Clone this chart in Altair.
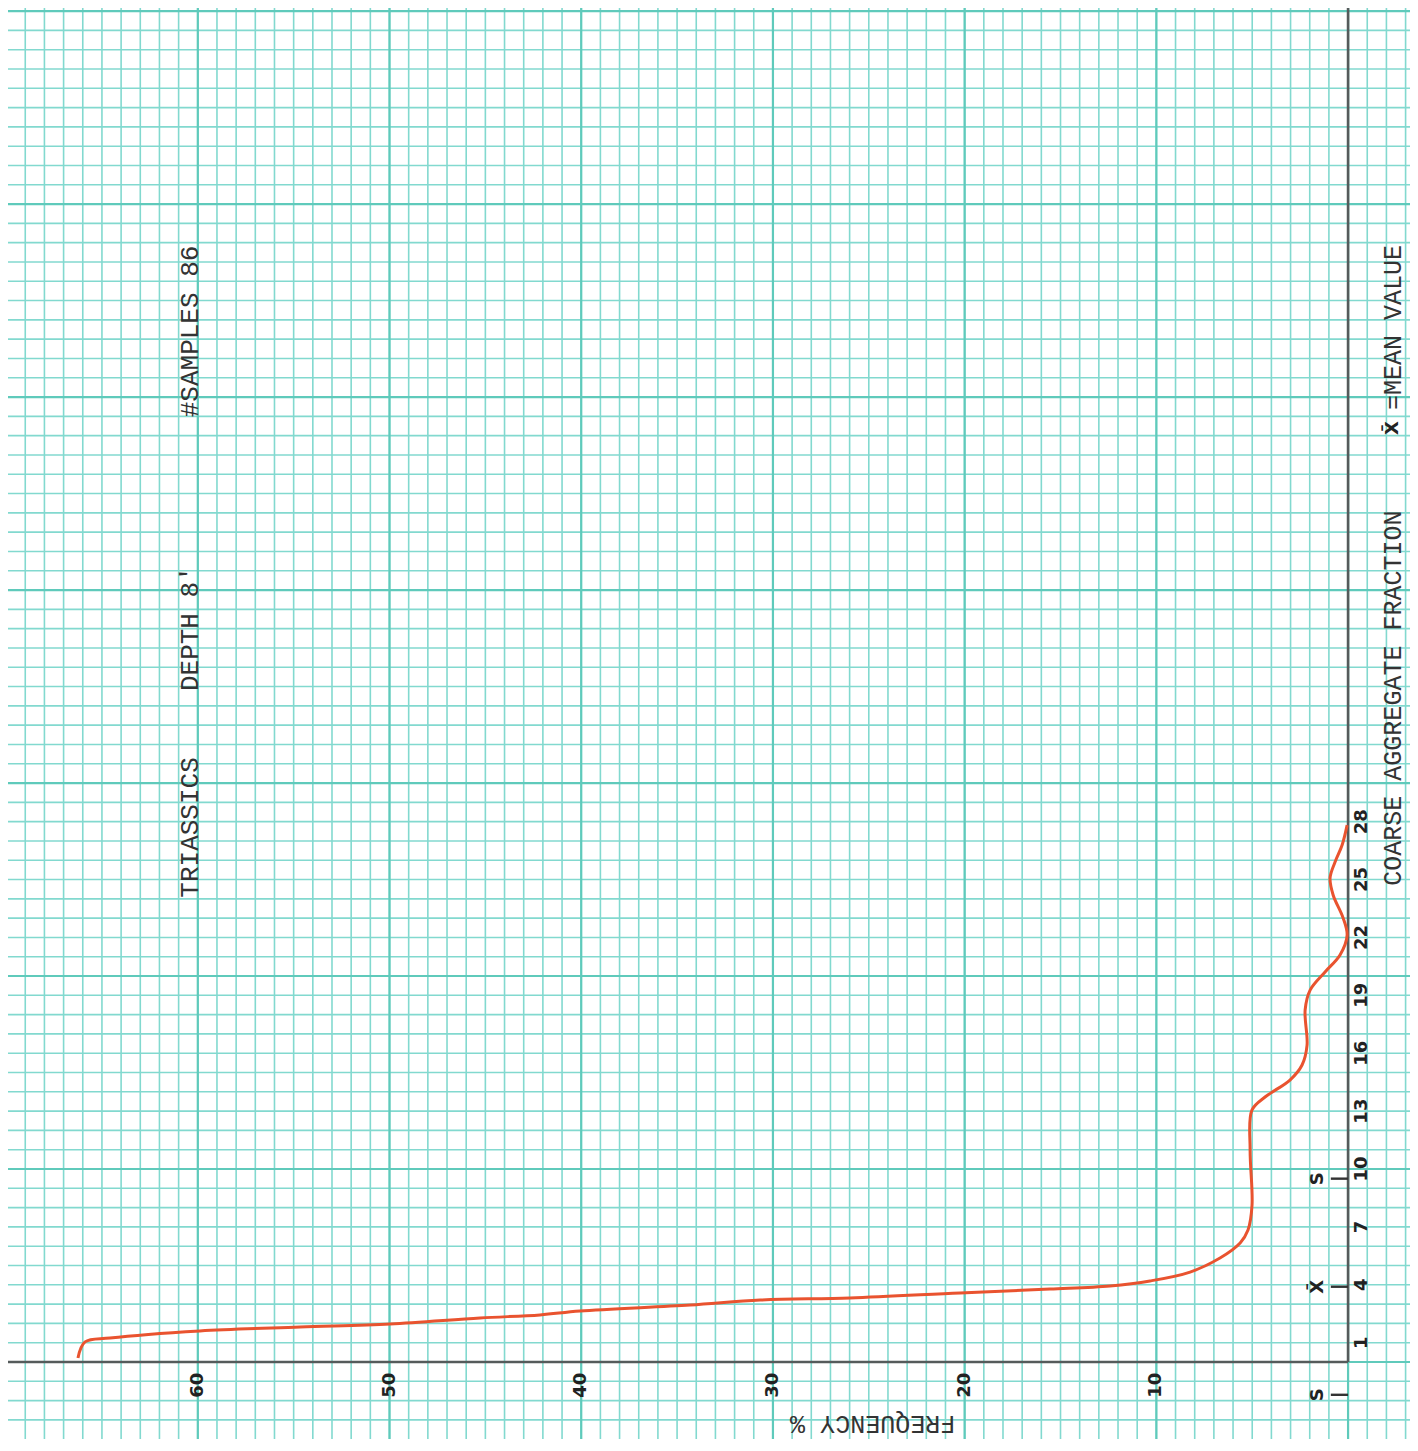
import altair as alt
import pandas as pd

# ---- data ----
freq = [66.25, 65.88, 64.58, 59.89, 54.67, 49.97, 45.28, 42.15, 40.06, 34.32,
        30.67, 25.98, 20.24, 15.55, 12.42, 10.33, 8.24, 6.68, 5.63, 5.22,
        5.01, 5.11, 5.01, 4.33, 3.03, 2.40, 2.14, 2.24, 1.98, 1.20,
        0.42, 0.05, 0.26, 0.78, 0.94, 0.68, 0.31, 0.05]
fraction = [0.21, 1.04, 1.24, 1.61, 1.81, 1.97, 2.28, 2.44, 2.64, 2.95,
            3.21, 3.32, 3.58, 3.78, 3.94, 4.20, 4.66, 5.39, 6.17, 6.84,
            8.13, 10.98, 13.06, 13.73, 14.61, 15.39, 16.42, 18.24, 19.27, 20.21,
            21.09, 22.12, 23.01, 24.20, 25.08, 25.91, 26.79, 27.82]

freq_ticks = [60, 50, 40, 30, 20, 10]
fraction_ticks = [1, 4, 7, 10, 13, 16, 19, 22, 25, 28]

mean_value = 3.9
s_upper = 9.5
s_lower = -1.7

title_texts = ["TRIASSICS", "DEPTH 8'", "#SAMPLES 86"]
title_pos = [27.7, 38.0, 53.4]
side_texts = ["COARSE AGGREGATE FRACTION", "=MEAN VALUE"]
side_pos = [34.4, 53.6]

# ---- scales ----
W, H = 1402, 1431
x_dom = [69.9, -3.23]
y_dom = [-3.99, 70.16]
xs = alt.Scale(domain=x_dom, nice=False, zero=False)
ys = alt.Scale(domain=y_dom, nice=False, zero=False)

GRID_MINOR = "#82d9cf"
GRID_MAJOR = "#5fcabb"
AXIS_COL = "#555b5b"
RED = "#e9532f"
MONO = "Liberation Mono"
BOLD = "DejaVu Sans"

minor_x = pd.DataFrame({"v": list(range(-3, 70))})
minor_y = pd.DataFrame({"v": list(range(-3, 71))})
major_x = pd.DataFrame({"v": list(range(0, 70, 10))})
major_y = pd.DataFrame({"v": list(range(0, 71, 10))})

gx = alt.Chart(minor_x).mark_rule(color=GRID_MINOR, strokeWidth=1.6).encode(
    x=alt.X("v:Q", scale=xs, axis=None))
gy = alt.Chart(minor_y).mark_rule(color=GRID_MINOR, strokeWidth=1.6).encode(
    y=alt.Y("v:Q", scale=ys, axis=None))
Gx = alt.Chart(major_x).mark_rule(color=GRID_MAJOR, strokeWidth=2.2).encode(
    x=alt.X("v:Q", scale=xs, axis=None))
Gy = alt.Chart(major_y).mark_rule(color=GRID_MAJOR, strokeWidth=2.2).encode(
    y=alt.Y("v:Q", scale=ys, axis=None))

origin = pd.DataFrame({"x": [0], "y": [0]})
vaxis = alt.Chart(origin).mark_rule(color=AXIS_COL, strokeWidth=2.6).encode(
    x=alt.X("x:Q", scale=xs, axis=None), y=alt.Y("y:Q", scale=ys, axis=None),
    y2=alt.value(0))
haxis = alt.Chart(origin).mark_rule(color=AXIS_COL, strokeWidth=2.6).encode(
    x=alt.X("x:Q", scale=xs, axis=None), y=alt.Y("y:Q", scale=ys, axis=None),
    x2=alt.value(0))

curve_df = pd.DataFrame({"freq": freq, "fraction": fraction,
                         "idx": list(range(len(freq)))})
curve = alt.Chart(curve_df).mark_line(color=RED, strokeWidth=3,
                                      interpolate="catmull-rom").encode(
    x=alt.X("freq:Q", scale=xs, axis=None),
    y=alt.Y("fraction:Q", scale=ys, axis=None),
    order="idx:Q")

# tick labels
fl = pd.DataFrame({"x": freq_ticks, "y": [-1.2] * len(freq_ticks),
                   "t": [str(v) for v in freq_ticks]})
flab = alt.Chart(fl).mark_text(angle=270, font=BOLD, fontWeight="bold",
                               fontSize=18, color="#222",
                               align="center", baseline="middle").encode(
    x=alt.X("x:Q", scale=xs, axis=None), y=alt.Y("y:Q", scale=ys, axis=None),
    text="t:N")
yl = pd.DataFrame({"x": [-0.75] * len(fraction_ticks), "y": fraction_ticks,
                   "t": [str(v) for v in fraction_ticks]})
ylab = alt.Chart(yl).mark_text(angle=270, font=BOLD, fontWeight="bold",
                               fontSize=18, color="#222",
                               align="center", baseline="middle").encode(
    x=alt.X("x:Q", scale=xs, axis=None), y=alt.Y("y:Q", scale=ys, axis=None),
    text="t:N")

# mean / std markers
mk = pd.DataFrame({"y": [s_upper, mean_value, s_lower],
                   "t": ["S", "X\u0304", "S"],
                   "x0": [0, 0, 0], "x1": [0.9, 0.9, 0.9], "xt": [1.55, 1.55, 1.55]})
mticks = alt.Chart(mk).mark_rule(color="#333", strokeWidth=2.4).encode(
    x=alt.X("x0:Q", scale=xs, axis=None), x2="x1:Q",
    y=alt.Y("y:Q", scale=ys, axis=None))
mtext = alt.Chart(mk).mark_text(angle=270, font=BOLD, fontWeight="bold",
                                fontSize=18, color="#222",
                                align="center", baseline="middle").encode(
    x=alt.X("xt:Q", scale=xs, axis=None), y=alt.Y("y:Q", scale=ys, axis=None),
    text="t:N")

# titles
tt = pd.DataFrame({"x": [60.4] * 3, "y": title_pos, "t": title_texts})
ttext = alt.Chart(tt).mark_text(angle=270, font=MONO, fontSize=26, color="#333",
                                align="center", baseline="middle").encode(
    x=alt.X("x:Q", scale=xs, axis=None), y=alt.Y("y:Q", scale=ys, axis=None),
    text="t:N")
st = pd.DataFrame({"x": [-2.35] * 2, "y": side_pos, "t": side_texts})
stext = alt.Chart(st).mark_text(angle=270, font=MONO, fontSize=25, color="#333",
                                align="center", baseline="middle").encode(
    x=alt.X("x:Q", scale=xs, axis=None), y=alt.Y("y:Q", scale=ys, axis=None),
    text="t:N")
xbar = pd.DataFrame({"x": [-2.35], "y": [48.4], "t": ["X\u0304"]})
xbtext = alt.Chart(xbar).mark_text(angle=270, font=BOLD, fontWeight="bold",
                                   fontSize=18, color="#222",
                                   align="center", baseline="middle").encode(
    x=alt.X("x:Q", scale=xs, axis=None), y=alt.Y("y:Q", scale=ys, axis=None),
    text="t:N")
fq = pd.DataFrame({"x": [24.8], "y": [-3.2], "t": ["FREQUENCY %"]})
fqtext = alt.Chart(fq).mark_text(angle=180, font=MONO, fontSize=25, color="#333",
                                 align="center", baseline="middle").encode(
    x=alt.X("x:Q", scale=xs, axis=None), y=alt.Y("y:Q", scale=ys, axis=None),
    text="t:N")

chart = alt.layer(gx, gy, Gx, Gy, vaxis, haxis, curve, flab, ylab,
                  mticks, mtext, ttext, stext, xbtext, fqtext).properties(
    width=W, height=H, padding=0,
    autosize=alt.AutoSizeParams(type="none"),
    background="white",
).configure_view(strokeWidth=0)

chart.save("out.html", embed_options={"renderer": "svg", "actions": False})
